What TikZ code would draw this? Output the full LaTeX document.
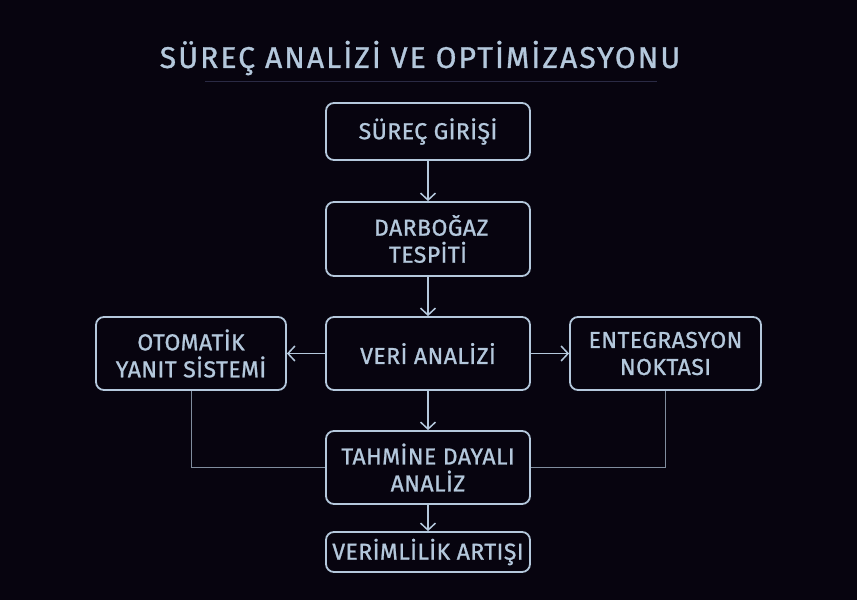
\documentclass[tikz,border=0pt]{standalone}
\usepackage{fontspec}
\setmainfont{Fira Sans}
\usetikzlibrary{arrows.meta}
\definecolor{bg}{HTML}{07040F}
\definecolor{fg}{HTML}{B4C8DC}
\definecolor{rule}{HTML}{2A2A44}
\begin{document}
\begin{tikzpicture}[x=1pt,y=-1pt,
  box/.style={draw=fg,line width=1.8pt,rounded corners=8pt,text=fg,align=center,
    inner sep=0pt,font=\fontsize{23}{27}\selectfont\addfontfeatures{FakeBold=1,LetterSpace=2}},
  flow/.style={draw=fg,line width=1.5pt,-{Straight Barb[length=7pt,width=15pt]}},
  link/.style={draw=fg!70!bg,line width=1pt}]
\fill[bg] (0,0) rectangle (857,600);
\useasboundingbox (0,0) rectangle (857,600);
\node[text=fg,font=\fontsize{30}{36}\selectfont\addfontfeatures{FakeBold=1,LetterSpace=7}] (title) at (420,58) {SÜREÇ ANALİZİ VE OPTİMİZASYONU};
\coordinate (r1) at (205,81);
\coordinate (r2) at (657,81);
\draw[rule,line width=1pt] (r1) -- (r2);
\node[box,minimum width=204pt,minimum height=57pt] (gir) at (428,131.5) {SÜREÇ GİRİŞİ};
\node[box,minimum width=204pt,minimum height=74pt] (dar) at (428,239) {\ DARBOĞAZ\\TESPİTİ};
\node[box,minimum width=204pt,minimum height=73pt] (veri) at (428,353.5) {VERİ ANALİZİ};
\node[box,minimum width=190pt,minimum height=73pt] (oto) at (191,353.5) {OTOMATİK\\YANIT SİSTEMİ};
\node[box,minimum width=191pt,minimum height=73pt] (ent) at (665.5,353.5) {ENTEGRASYON\\NOKTASI};
\node[box,minimum width=204pt,minimum height=73pt] (tah) at (428,467.5) {TAHMİNE DAYALI\\ANALİZ};
\node[box,minimum width=204pt,minimum height=40pt] (ver) at (428,552) {VERİMLİLİK ARTIŞI};
\draw[flow] (gir) -- (dar);
\draw[flow] (dar) -- (veri);
\draw[flow] (veri) -- (tah);
\draw[flow] (tah) -- (ver);
\draw[flow] (veri) -- (oto);
\draw[flow] (veri) -- (ent);
\draw[link] (oto.south) |- (tah.west);
\draw[link] (ent.south) |- (tah.east);
\end{tikzpicture}
\end{document}
